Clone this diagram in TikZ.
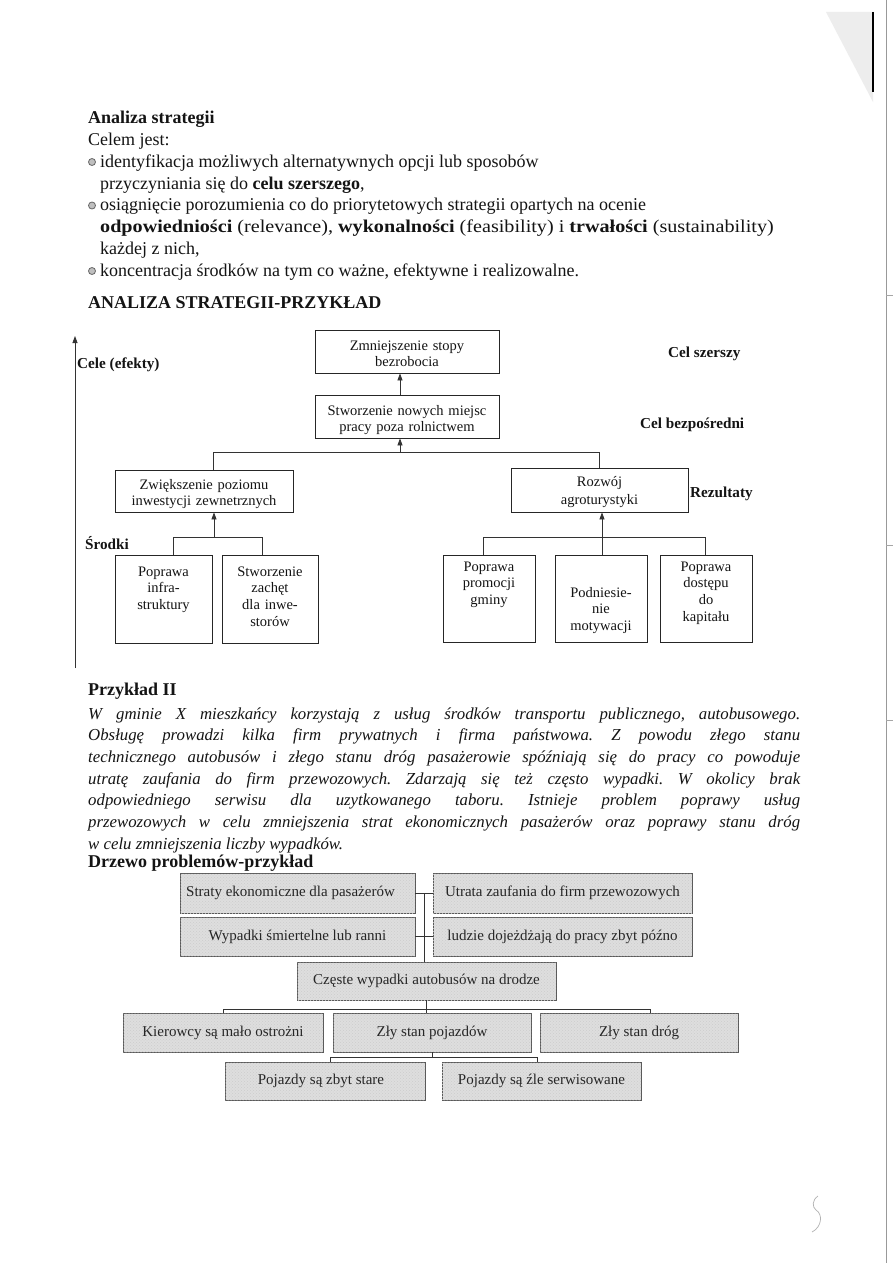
\documentclass[tikz,border=0pt]{standalone}
\usepackage{fontspec}
\setmainfont{Liberation Serif}
\usetikzlibrary{arrows.meta,patterns}
\newcommand{\fBody}{\fontsize{18}{21.7}\selectfont}
\newcommand{\fItal}{\fontsize{16.8}{21.7}\selectfont\itshape}
\newcommand{\fBox}{\fontsize{14.5}{16.8}\selectfont}
\newcommand{\fLab}{\fontsize{15.2}{17}\selectfont\bfseries}
\newcommand{\fTree}{\fontsize{15}{17}\selectfont}
\newcommand{\jline}[1]{\makebox[712pt][s]{#1}}
\frenchspacing
\begin{document}
\begin{tikzpicture}[x=1pt,y=-1pt,
  txt/.style={anchor=base west, inner sep=0pt, font=\fBody, text=black!92},
  itxt/.style={anchor=base west, inner sep=0pt, font=\fItal, text=black!92},
  lab/.style={anchor=base west, inner sep=0pt, font=\fLab, text=black!92},
  bul/.style={circle, draw=black!60, fill=black!25, line width=0.8pt, minimum size=7pt, inner sep=0pt},
  box/.style={draw=black!85, line width=0.8pt, inner sep=0pt, fill=white},
  btxt/.style={anchor=base, inner sep=0pt, font=\fBox, align=center, text width=92pt, text=black!92},
  btxtw/.style={anchor=base, inner sep=0pt, font=\fBox, align=center, text width=176pt, text=black!92},
  conn/.style={draw=black!80, line width=0.8pt},
  arr/.style={draw=black!80, line width=0.8pt, -{Triangle[length=7pt,width=5pt]}},
  gbox/.style={draw=black!65, line width=0.8pt, fill=black!13, inner sep=0pt, font=\fTree, text=black!85,
     postaction={pattern=crosshatch dots, pattern color=black!20}},
]
\useasboundingbox[fill=white] (0,0) rectangle (893,1263);

% scan artefacts at the right edge
\fill[black!7] (826,12) -- (873,12) -- (873,102) -- cycle;
\draw[black, line width=2.2pt] (873,12) -- (873,92);
\draw[black!40, line width=0.6pt] (886,0) -- (886,1263);
\draw[black!35, line width=0.6pt] (886,295) -- (893,295);
\draw[black!35, line width=0.6pt] (886,545) -- (893,545);
\draw[black!35, line width=0.6pt] (886,720) -- (893,720);
\draw[black!30, line width=0.7pt] (818,1196) .. controls (812,1200) and (812,1207) .. (816,1210) .. controls (823,1214) and (822,1227) .. (812,1232);

% ---------- text block 1 ----------
\node[txt, font=\fBody\bfseries] (t1) at (88,123) {Analiza strategii};
\node[txt] (t2) at (88,145) {Celem jest:};
\node[bul] (b1) at (92,162) {};
\node[txt] (t3) at (100,167) {identyfikacja możliwych alternatywnych opcji lub sposobów};
\node[txt] (t4) at (100,189) {przyczyniania się do \textbf{celu szerszego},};
\node[bul] (b2) at (92,205.5) {};
\node[txt] (t5) at (100,210.5) {osiągnięcie porozumienia co do priorytetowych strategii opartych na ocenie};
\node[txt] (t6) at (100,232.5) {\scalebox{1.12}[1]{\textbf{odpowiedniości} (relevance), \textbf{wykonalności} (feasibility) i \textbf{trwałości} (sustainability)}};
\node[txt] (t7) at (100,254) {każdej z nich,};
\node[bul] (b3) at (92,271) {};
\node[txt] (t8) at (100,276) {koncentracja środków na tym co ważne, efektywne i realizowalne.};
\node[txt, font=\fBody\bfseries] (t9) at (88,308) {ANALIZA STRATEGII-PRZYKŁAD};

% ---------- diagram 1 ----------
\node[box, minimum width=184pt, minimum height=43pt] (A) at (407,351.5) {};
\node[btxtw] (At) at (407,350) {Zmniejszenie stopy\\bezrobocia};
\node[box, minimum width=184pt, minimum height=43pt] (B) at (407,416.5) {};
\begin{scope}
  \clip ([shift={(0.5,-0.5)}]B.south west) rectangle ([shift={(-0.5,0.5)}]B.north east);
  \node[btxtw] (Bt) at (407,415) {Stworzenie nowych miejsc\\[-0.2pt]pracy poza rolnictwem};
\end{scope}
\node[box, minimum width=178pt, minimum height=42pt] (C) at (204,491) {};
\begin{scope}
  \clip ([shift={(0.5,-0.5)}]C.south west) rectangle ([shift={(-0.5,0.5)}]C.north east);
  \node[btxtw] (Ct) at (204,489) {Zwiększenie poziomu\\inwestycji zewnetrznych};
\end{scope}
\node[box, minimum width=177pt, minimum height=44pt] (F) at (599.5,490) {};
\begin{scope}
  \clip ([shift={(0.5,-0.5)}]F.south west) rectangle ([shift={(-0.5,0.5)}]F.north east);
  \node[btxtw] (Ft) at (599.5,486) {Rozwój\\[1.5pt]agroturystyki};
\end{scope}
\node[box, minimum width=97pt, minimum height=88pt] (D) at (163.5,599) {};
\node[btxt] (Dt) at (163.5,576) {Poprawa\\infra-\\struktury};
\node[box, minimum width=96pt, minimum height=88pt] (E) at (270,599) {};
\node[btxt] (Et) at (270,576) {Stworzenie\\zachęt\\dla inwe-\\storów};
\node[box, minimum width=92pt, minimum height=87pt] (G) at (489,598.5) {};
\node[btxt] (Gt) at (489,571) {Poprawa\\promocji\\gminy};
\node[box, minimum width=92pt, minimum height=87pt] (H) at (601,598.5) {};
\node[btxt] (Ht) at (601,597) {Podniesie-\\nie\\motywacji};
\node[box, minimum width=92pt, minimum height=87pt] (I) at (706,598.5) {};
\node[btxt] (It) at (706,571) {Poprawa\\dostępu\\do\\kapitału};

% connectors diagram 1
\coordinate (axb) at (75,668);
\coordinate (axt) at (75,336);
\draw[arr] (axb) -- (axt);
\draw[arr] ([xshift=-7pt]B.north) -- ([xshift=-7pt]A.south);
\coordinate (lvl) at (400,452);
\draw[conn] ([xshift=9pt]C.north) |- (lvl -| F.north) -- (F.north);
\draw[arr] (lvl) -- (lvl |- B.south);
\coordinate (dj) at (214,537);
\coordinate (dl) at (173,555);
\coordinate (dr) at (262,555);
\draw[arr] (dj) -- (dj |- C.south);
\draw[conn] (dl) |- (dr |- dj) -- (dr);
\coordinate (fj) at (602,537);
\coordinate (gl) at (483,555);
\coordinate (ir) at (705,555);
\draw[arr] (H.north -| fj) -- (fj |- F.south);
\draw[conn] (gl) |- (ir |- fj) -- (ir);

% labels
\node[lab] (L1) at (77,368) {Cele (efekty)};
\node[lab] (L2) at (668,357) {Cel szerszy};
\node[lab] (L3) at (640,428) {Cel bezpośredni};
\node[lab] (L4) at (690,497) {Rezultaty};
\node[lab] (L5) at (85,549) {Środki};

% ---------- text block 2 ----------
\node[txt, font=\fBody\bfseries] (p0) at (88,695) {Przykład II};
\node[itxt] (p1) at (88,719) {\jline{W gminie X mieszkańcy korzystają z usług środków transportu publicznego, autobusowego.}};
\node[itxt] (p2) at (88,740.7) {\jline{Obsługę prowadzi kilka firm prywatnych i firma państwowa. Z powodu złego stanu}};
\node[itxt] (p3) at (88,762.4) {\jline{technicznego autobusów i złego stanu dróg pasażerowie spóźniają się do pracy co powoduje}};
\node[itxt] (p4) at (88,784.1) {\jline{utratę zaufania do firm przewozowych. Zdarzają się też często wypadki. W okolicy brak}};
\node[itxt] (p5) at (88,805.8) {\jline{odpowiedniego serwisu dla uzytkowanego taboru. Istnieje problem poprawy usług}};
\node[itxt] (p6) at (88,827.5) {\jline{przewozowych w celu zmniejszenia strat ekonomicznych pasażerów oraz poprawy stanu dróg}};
\node[itxt] (p7) at (88,849.2) {w celu zmniejszenia liczby wypadków.};
\node[txt, font=\fBody\bfseries] (p8) at (88,867) {Drzewo problemów-przykład};

% ---------- diagram 2 ----------
\node[gbox, minimum width=235pt, minimum height=40pt] (s1) at (297.5,893) {Straty ekonomiczne dla pasażerów\hspace*{14pt}};
\node[gbox, minimum width=259pt, minimum height=40pt] (s2) at (562.5,893) {Utrata zaufania do firm przewozowych};
\node[gbox, minimum width=235pt, minimum height=39pt] (s3) at (297.5,936.5) {Wypadki śmiertelne lub ranni};
\node[gbox, minimum width=259pt, minimum height=39pt] (s4) at (562.5,936.5) {ludzie dojeżdżają do pracy zbyt późno};
\node[gbox, minimum width=259pt, minimum height=38pt] (cc) at (426.5,981) {Częste wypadki autobusów na drodze};
\node[gbox, minimum width=200pt, minimum height=39pt] (k1) at (223,1032.5) {Kierowcy są mało ostrożni};
\node[gbox, minimum width=198pt, minimum height=39pt] (k2) at (432,1032.5) {Zły stan pojazdów};
\node[gbox, minimum width=198pt, minimum height=39pt] (k3) at (639,1032.5) {Zły stan dróg};
\node[gbox, minimum width=200pt, minimum height=38pt] (q1) at (325,1081) {Pojazdy są zbyt stare\hspace*{8pt}};
\node[gbox, minimum width=199pt, minimum height=38pt] (q2) at (541.5,1081) {Pojazdy są źle serwisowane};

\coordinate (j1) at (424,893);
\draw[conn] (s1.east) -- (s2.west);
\draw[conn] (s3.east) -- (s4.west);
\draw[conn] (j1) -- (j1 |- cc.north);
\coordinate (j2) at (0,1009);
\coordinate (k3t) at (650,1013);
\draw[conn] (cc.south) -- (cc.south |- k2.north);
\draw[conn] (k1.north) |- (j2 -| k3t) -- (k3t);
\coordinate (j3) at (0,1057);
\coordinate (q1t) at (330,1062);
\coordinate (q2t) at (537,1062);
\draw[conn] (k2.south) -- (k2.south |- j3);
\draw[conn] (q1t) |- (j3 -| q2t) -- (q2t);
\end{tikzpicture}
\end{document}
